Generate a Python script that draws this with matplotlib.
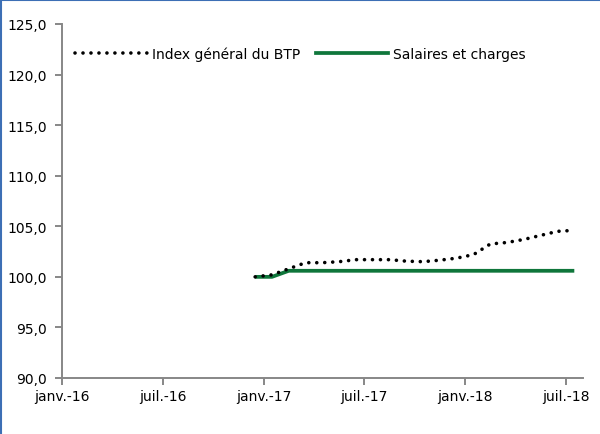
import numpy as np
import matplotlib.pyplot as plt
from matplotlib.lines import Line2D

# months counted from janv.-16 (0), data runs déc.-16 .. juil.-18
first_month = 11
index_btp = [100.0, 100.2, 100.8, 101.4, 101.4, 101.5, 101.7, 101.7, 101.7, 101.55,
             101.5, 101.65, 101.85, 102.2, 103.25, 103.4, 103.7, 104.1, 104.5, 104.6]
salaires = [100.0, 100.0, 100.6, 100.6, 100.6, 100.6, 100.6, 100.6, 100.6, 100.6,
            100.6, 100.6, 100.6, 100.6, 100.6, 100.6, 100.6, 100.6, 100.6, 100.6]
tick_labels = ['janv.-16', 'juil.-16', 'janv.-17', 'juil.-17', 'janv.-18', 'juil.-18']
tick_months = [0, 6, 12, 18, 24, 30]

plt.rcParams['font.family'] = 'DejaVu Sans'
plt.rcParams['font.size'] = 10

fig = plt.figure(figsize=(6, 4.35), dpi=100)
ax = fig.add_axes([62 / 600, 56 / 435, (582.7 - 62) / 600, 354 / 435])

x = np.arange(len(index_btp)) + first_month + 0.5
grey = '#878787'
green = '#0f763b'
dots = (0, (0.01, 2.2))

ax.plot(x, salaires, color=green, lw=2.7, solid_capstyle='butt',
        label='Salaires et charges', zorder=2)
ax.plot(x, index_btp, color='black', lw=2.6, linestyle=dots,
        dash_capstyle='round', label='Index général du BTP', zorder=3)

ax.set_xlim(0, 31)
ax.set_ylim(90, 125)
ax.set_xticks(tick_months)
ax.set_xticklabels(tick_labels)
ax.set_yticks(np.arange(90, 126, 5))
ax.set_yticklabels([f'{v:.1f}'.replace('.', ',') for v in np.arange(90, 126, 5)])

for s in ['top', 'right']:
    ax.spines[s].set_visible(False)
for s in ['left', 'bottom']:
    ax.spines[s].set_color(grey)
    ax.spines[s].set_linewidth(1.4)
ax.tick_params(axis='both', direction='out', length=5, width=1.4, color=grey,
               labelcolor='black', labelsize=10)
ax.tick_params(axis='y', pad=6)
ax.tick_params(axis='x', pad=3)

# legend: dotted index first, then salaires
handles = [
    Line2D([], [], color='black', lw=2.6, linestyle=dots, dash_capstyle='round'),
    Line2D([], [], color=green, lw=2.7),
]
ax.legend(handles, ['Index général du BTP', 'Salaires et charges'], ncol=2,
          loc='center left', bbox_to_anchor=(0.025, 0.915), frameon=False,
          borderpad=0, borderaxespad=0, handlelength=5.2, handletextpad=0.35,
          columnspacing=1.1, fontsize=10)

# outer border (left and top visible)
border = '#3d6fb5'
fig.add_artist(Line2D([0.002, 0.002], [0, 1], transform=fig.transFigure, color=border, lw=1.5))
fig.add_artist(Line2D([0, 1], [0.998, 0.998], transform=fig.transFigure, color=border, lw=1.5))

fig.savefig('out.png', dpi=100)
